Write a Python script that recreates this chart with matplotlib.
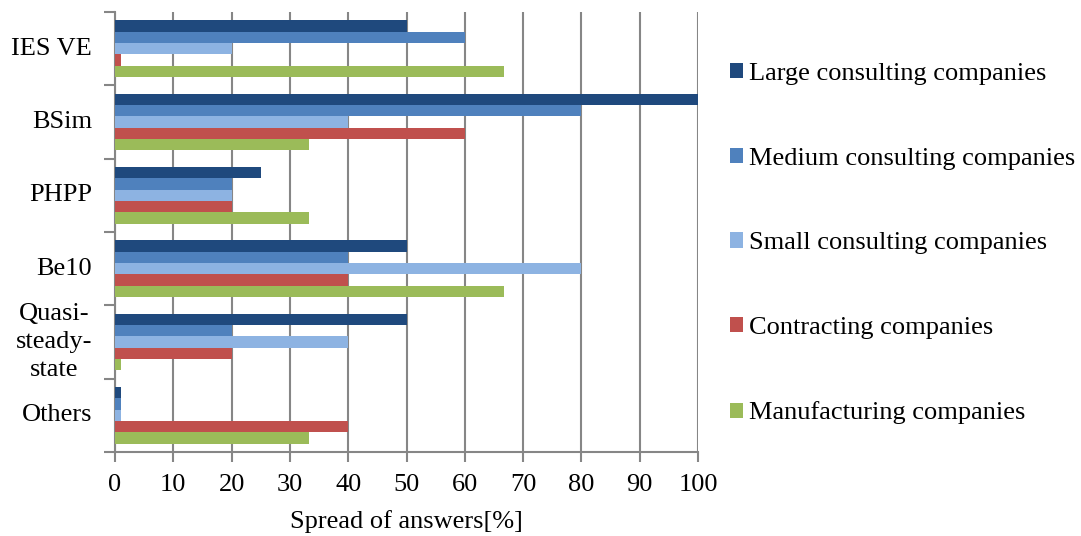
import matplotlib.pyplot as plt
import numpy as np
from matplotlib.patches import Patch
from matplotlib import transforms

plt.rcParams['font.family'] = ['Liberation Serif', 'DejaVu Serif']

tools = ['IES VE', 'BSim', 'PHPP', 'Be10', 'Quasi-\nsteady-\nstate', 'Others']
groups = ['Large consulting companies', 'Medium consulting companies',
          'Small consulting companies', 'Contracting companies',
          'Manufacturing companies']
large = [50, 100, 25, 50, 50, 1]
medium = [60, 80, 20, 40, 20, 1]
small = [20, 40, 20, 80, 40, 1]
contracting = [1, 60, 20, 40, 20, 40]
manufacturing = [66.7, 33.3, 33.3, 66.7, 1, 33.3]
colors = ['#1F497D', '#4F81BD', '#8DB3E2', '#C0504D', '#9BBB59']

series = [large, medium, small, contracting, manufacturing]
fs = 19

fig = plt.figure(figsize=(10.81, 5.36), dpi=100)
ax = fig.add_axes([0.1064, 0.1567, 0.5393, 0.8209])

y = np.arange(len(tools))
h = 0.154
for j, (vals, c) in enumerate(zip(series, colors)):
    ax.barh(y + (j - 2) * h, vals, height=h, color=c, zorder=3)

ax.set_xlim(0, 100)
ax.set_ylim(len(tools) - 0.5, -0.5)
ax.set_xticks(np.arange(0, 101, 10))
ax.tick_params(axis='x', labelsize=fs, length=7, width=1.5, color='#868686',
               direction='out', pad=9)
ax.set_yticks(np.arange(-0.5, len(tools), 1))
ax.set_yticklabels([])
ax.tick_params(axis='y', length=8, width=1.5, color='#868686', direction='out')
ax.grid(axis='x', color='#868686', linewidth=1.5, zorder=0)
for s in ['top', 'right']:
    ax.spines[s].set_visible(False)
for s in ['left', 'bottom']:
    ax.spines[s].set_color('#868686')
    ax.spines[s].set_linewidth(1.5)
ax.set_xlabel('Spread of answers[%]', fontsize=fs, labelpad=10)

# category names right-aligned left of the axis, each block centred on its group
trans = transforms.blended_transform_factory(fig.transFigure, ax.transData)
for yi, name in zip(y, tools):
    ax.text(0.0851, yi, name, transform=trans, ha='right', va='center',
            multialignment='center', fontsize=fs, linespacing=1.35)

handles = [Patch(facecolor=c, label=g) for c, g in zip(colors, groups)]
fig.legend(handles=handles, loc='center left', bbox_to_anchor=(0.653, 0.545),
           frameon=False, fontsize=fs, labelspacing=2.37, handlelength=0.5,
           handleheight=0.5, handletextpad=0.25)

fig.savefig('out.png', dpi=100)
